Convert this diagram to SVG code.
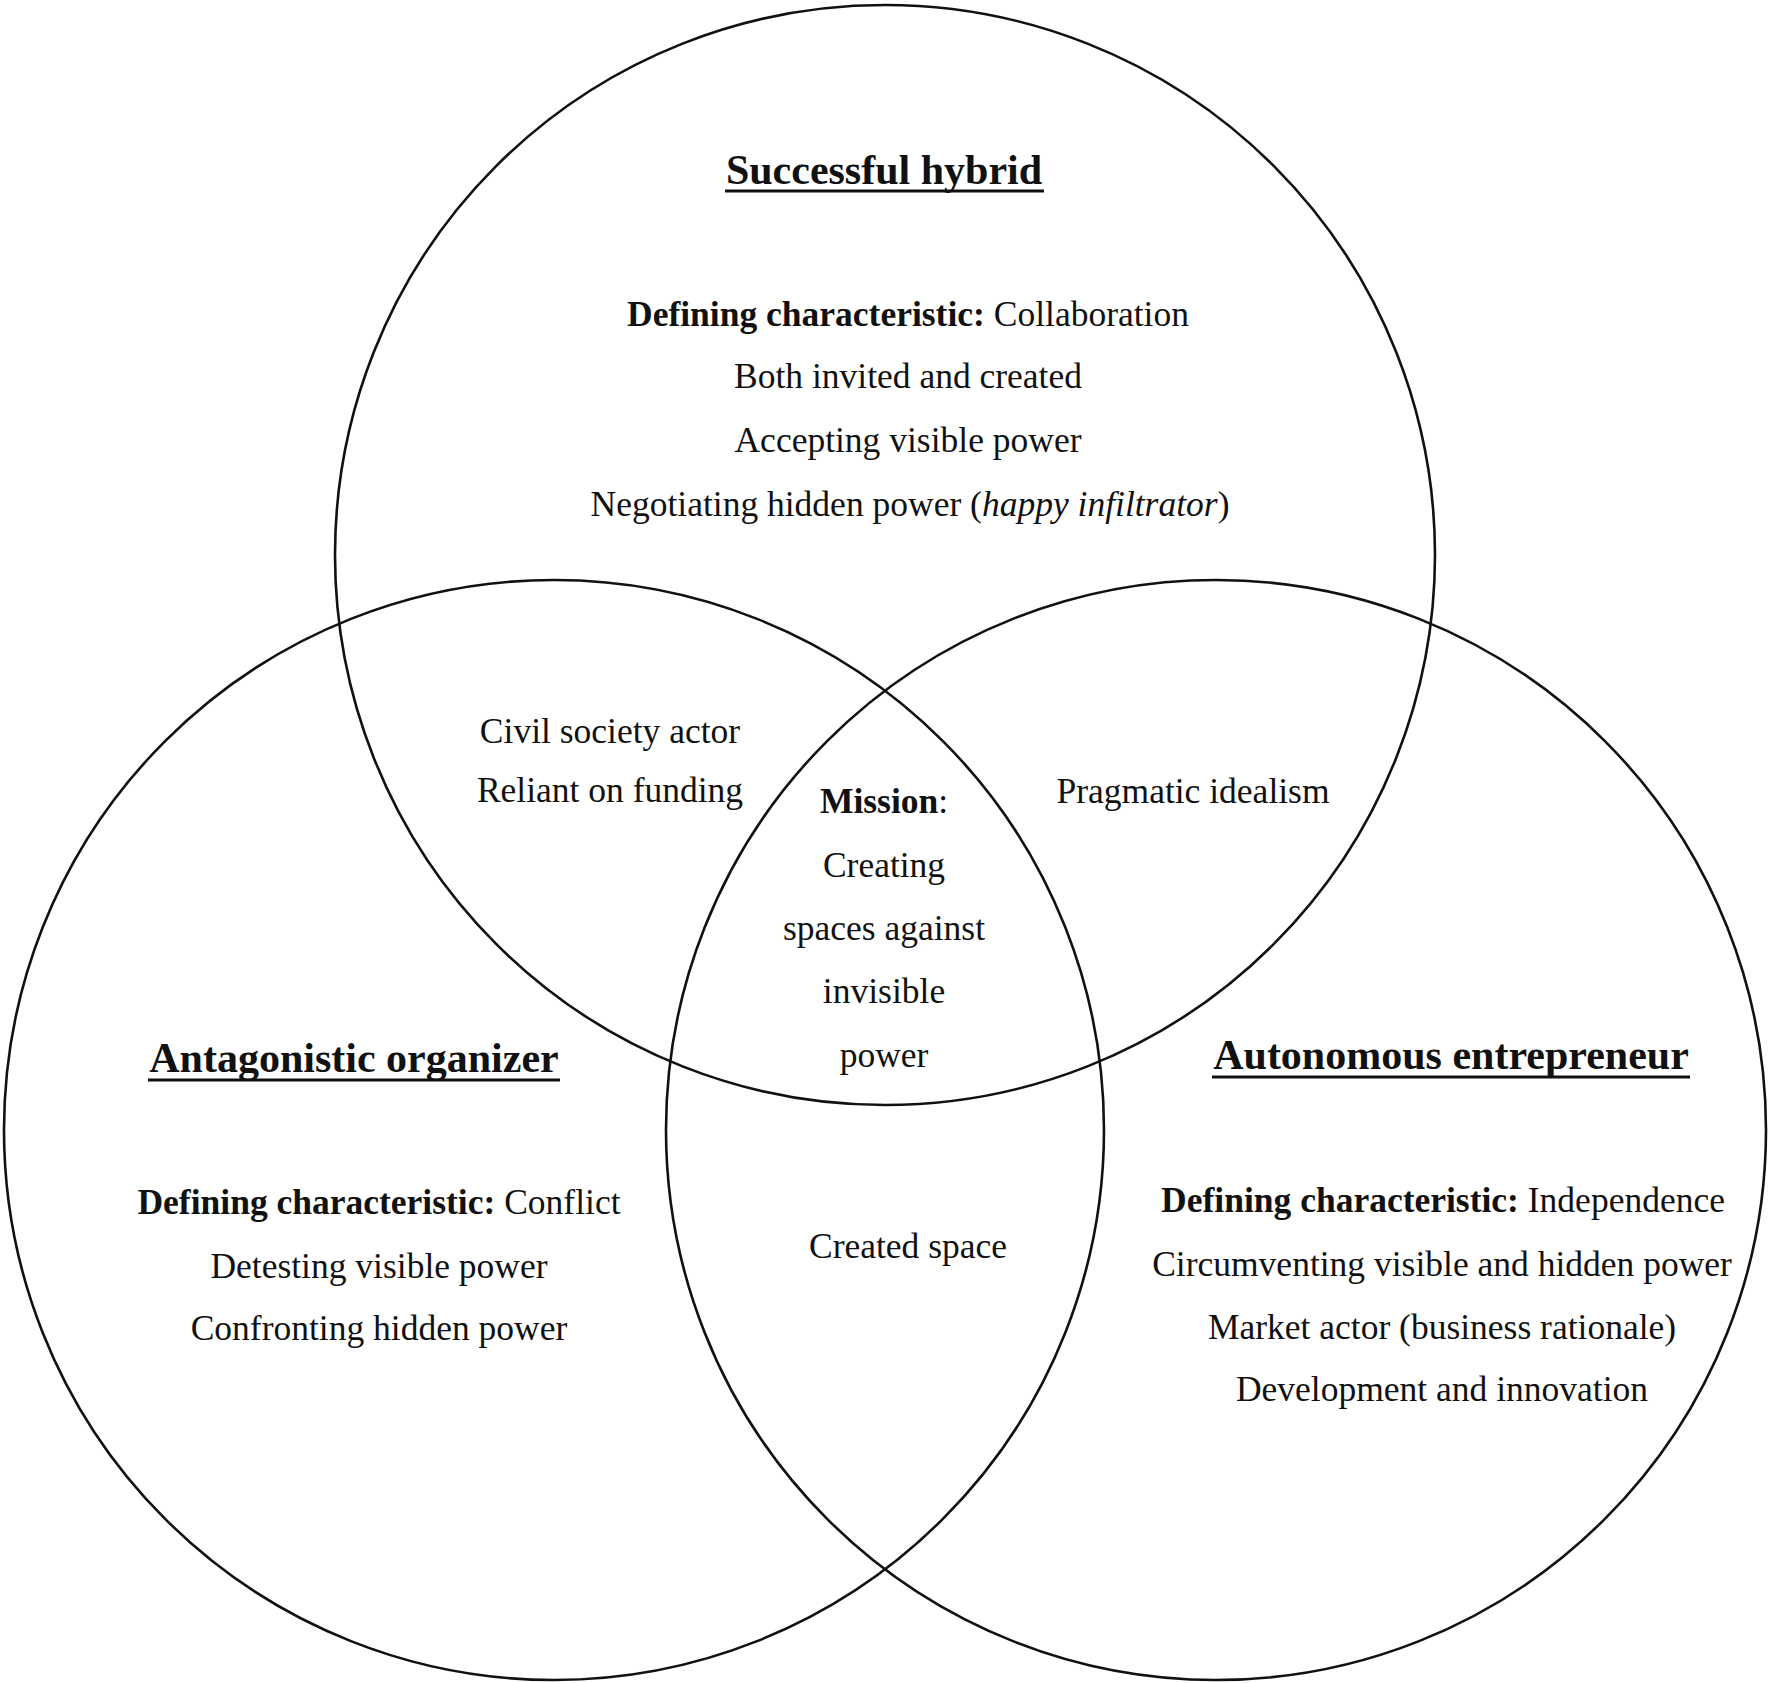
<svg xmlns="http://www.w3.org/2000/svg" width="1772" height="1683" viewBox="0 0 1772 1683">
<style>
  .ring { fill: none; stroke: #111; stroke-width: 2.6; }
  .ul { stroke: #111; stroke-width: 3; }
  text { font-family: "Liberation Serif", "Times New Roman", serif; fill: #111; text-anchor: middle; }
  .body { font-size: 35.5px; }
  .title { font-size: 42px; font-weight: bold; }
  .b { font-weight: bold; }
  .i { font-style: italic; }
</style>
<rect width="1772" height="1683" fill="#ffffff"/>
<g id="successful-hybrid">
  <circle class="ring" cx="885" cy="555" r="550"/>
  <text class="title" x="884" y="184">Successful hybrid</text>
  <line class="ul" x1="725" y1="191" x2="1044" y2="191"/>
  <text class="body" x="908" y="326"><tspan class="b">Defining characteristic:</tspan> Collaboration</text>
  <text class="body" x="908" y="388">Both invited and created</text>
  <text class="body" x="908" y="452">Accepting visible power</text>
  <text class="body" x="910" y="516">Negotiating hidden power (<tspan class="i">happy infiltrator</tspan>)</text>
</g>
<g id="antagonistic-organizer">
  <circle class="ring" cx="554" cy="1130" r="550"/>
  <text class="title" x="354" y="1072">Antagonistic organizer</text>
  <line class="ul" x1="148" y1="1080" x2="560" y2="1080"/>
  <text class="body" x="379" y="1214"><tspan class="b">Defining characteristic:</tspan> Conflict</text>
  <text class="body" x="379" y="1278">Detesting visible power</text>
  <text class="body" x="379" y="1340">Confronting hidden power</text>
</g>
<g id="autonomous-entrepreneur">
  <circle class="ring" cx="1216" cy="1130" r="550"/>
  <text class="title" x="1451" y="1069">Autonomous entrepreneur</text>
  <line class="ul" x1="1212" y1="1077" x2="1690" y2="1077"/>
  <text class="body" x="1443" y="1212"><tspan class="b">Defining characteristic:</tspan> Independence</text>
  <text class="body" x="1442" y="1276">Circumventing visible and hidden power</text>
  <text class="body" x="1442" y="1339">Market actor (business rationale)</text>
  <text class="body" x="1442" y="1401">Development and innovation</text>
</g>
<g id="hybrid-antagonistic">
  <text class="body" x="610" y="743">Civil society actor</text>
  <text class="body" x="610" y="802">Reliant on funding</text>
</g>
<g id="hybrid-autonomous">
  <text class="body" x="1193" y="803">Pragmatic idealism</text>
</g>
<g id="antagonistic-autonomous">
  <text class="body" x="908" y="1258">Created space</text>
</g>
<g id="mission">
  <text class="body" x="884" y="813"><tspan class="b">Mission</tspan>:</text>
  <text class="body" x="884" y="877">Creating</text>
  <text class="body" x="884" y="940">spaces against</text>
  <text class="body" x="884" y="1003">invisible</text>
  <text class="body" x="884" y="1067">power</text>
</g>
<g id="connectors"></g>
</svg>
